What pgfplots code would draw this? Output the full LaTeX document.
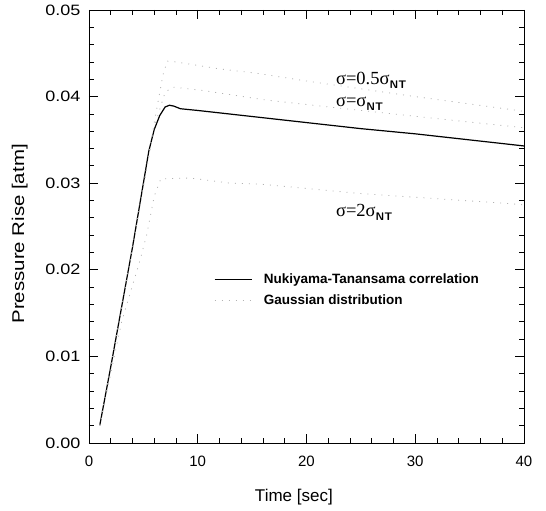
\documentclass[border=0pt]{standalone}
\usepackage{fontspec}
\setmainfont{Liberation Sans}
\newfontfamily\timesf{Liberation Serif}
\newfontfamily\widesans{Liberation Sans}[FakeStretch=1.2]
\usepackage{pgfplots}
\pgfplotsset{compat=1.18}

\newcommand{\sig}[1]{{\timesf\fontsize{18.5}{20}\selectfont #1\raisebox{-0.45ex}{\sffamily\bfseries\fontsize{11}{12}\selectfont NT}}}

\begin{document}
\begin{tikzpicture}
\begin{axis}[
    scale only axis,
    width=435pt, height=433pt,
    xmin=0, xmax=40, ymin=0, ymax=0.05,
    xtick={0,10,20,30,40},
    minor x tick num=4,
    ytick={0,0.01,0.02,0.03,0.04,0.05},
    minor y tick num=4,
    tick align=inside,
    major tick length=9pt, minor tick length=5pt,
    tick style={black, line width=0.8pt},
    axis line style={line width=0.9pt},
    scaled y ticks=false,
    yticklabel style={/pgf/number format/fixed, /pgf/number format/precision=2,
        /pgf/number format/fixed zerofill, font=\widesans\fontsize{15}{16}\selectfont, xshift=-5pt},
    xticklabel style={font=\fontsize{15}{16}\selectfont, yshift=-9pt},
    /pgf/number format/assume math mode=true,
    xlabel={Time [sec]},
    ylabel={Pressure Rise [atm]},
    xlabel style={at={(axis description cs:0.471,0)}, anchor=center, yshift=-54pt,
        font=\fontsize{17}{19}\selectfont},
    ylabel style={at={(axis description cs:-0.159,0.483)}, anchor=center,
        font=\widesans\fontsize{17}{19}\selectfont},
    legend style={at={(0.28,0.400)}, anchor=north west, draw=none, fill=none,
        font=\bfseries\fontsize{13.5}{15}\selectfont, row sep=5pt},
    legend cell align=left,
    legend image post style={xscale=2.2},
]
% Nukiyama-Tanasawa correlation
\addplot[black, line width=1.2pt] coordinates {
    (1,0.0021) (2,0.0088) (3,0.0157) (4,0.0226) (5,0.0300) (5.5,0.0337)
    (6,0.0362) (6.5,0.0378) (7,0.0388) (7.4,0.0390) (7.8,0.0389) (8.4,0.0386)
    (10,0.0384) (15,0.0377) (20,0.0370) (25,0.0363) (30,0.0357) (35,0.0350) (40,0.0343)};
\addlegendentry{\hspace{9pt}Nukiyama-Tanansama correlation}
% Gaussian, sigma = 0.5 sigma_NT
\addplot[gray!60, line width=0.8pt, dash pattern=on 1pt off 6pt] coordinates {
    (1,0.002) (4,0.0225) (6,0.0370) (6.8,0.0425) (7.2,0.0441) (8,0.0440)
    (12,0.0432) (15.4,0.0427) (20,0.0418) (30,0.0400) (40,0.0383)};
\addlegendentry{\hspace{9pt}Gaussian distribution}
% Gaussian, sigma = sigma_NT
\addplot[gray!60, line width=0.8pt, dash pattern=on 1pt off 6pt, forget plot] coordinates {
    (1,0.002) (4,0.0225) (6,0.0365) (7,0.0405) (7.7,0.0411) (10.5,0.0407)
    (16.3,0.0396) (25,0.0384) (34.7,0.0371) (40,0.0364)};
% Gaussian, sigma = 2 sigma_NT
\addplot[gray!60, line width=0.8pt, dash pattern=on 1pt off 6pt, forget plot] coordinates {
    (1,0.002) (3,0.0140) (4.6,0.0207) (5.3,0.0240) (6,0.0285) (6.6,0.0305)
    (9.3,0.0306) (13,0.0300) (15.7,0.0299) (25,0.0288) (38,0.0277) (40,0.0275)};

\node[anchor=base west, inner sep=0pt] at (axis cs:22.7,0.04134) {\sig{σ=0.5σ}};
\node[anchor=base west, inner sep=0pt] at (axis cs:22.7,0.03883) {\sig{σ=σ}};
\node[anchor=base west, inner sep=0pt] at (axis cs:22.7,0.02613) {\sig{σ=2σ}};
\end{axis}
\path (current axis.south west)++(-89pt,-68pt) coordinate (bbA);
\path (current axis.north east)++(22pt,10pt) coordinate (bbB);
\useasboundingbox (bbA) rectangle (bbB);
\end{tikzpicture}
\end{document}
